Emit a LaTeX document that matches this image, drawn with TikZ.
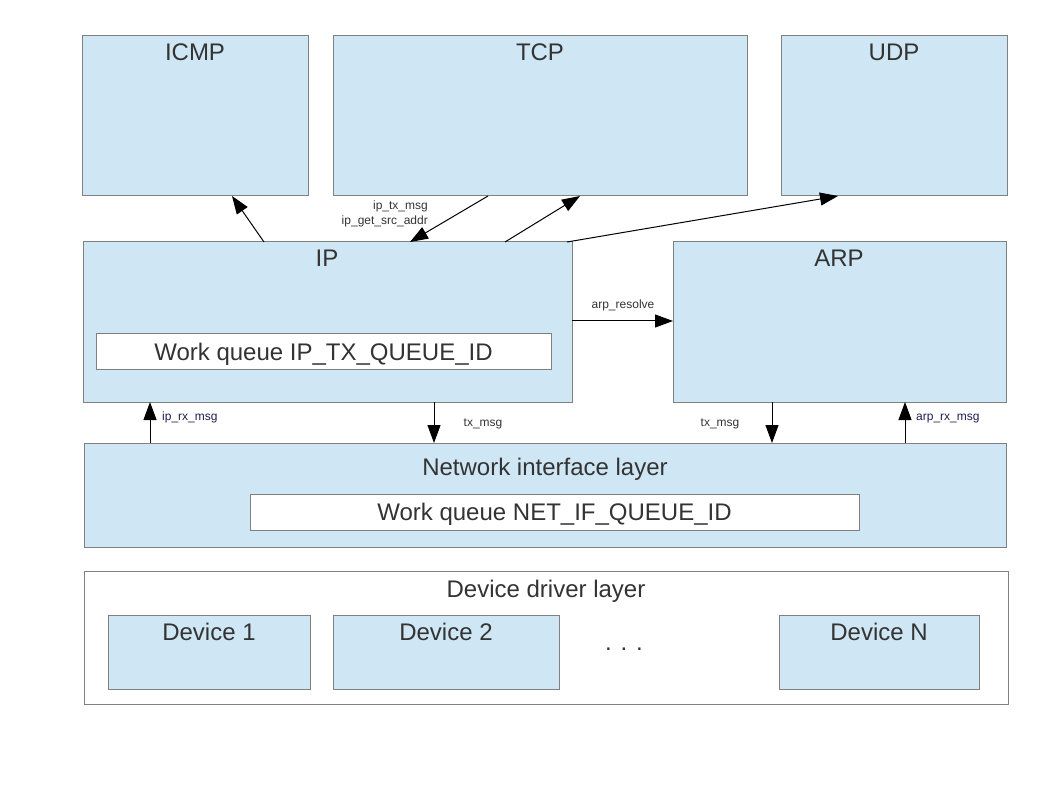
\documentclass[tikz,border=0pt]{standalone}
\usepackage{fontspec}
\setmainfont{Liberation Sans}
\usetikzlibrary{arrows.meta}
\definecolor{boxfill}{RGB}{207,231,245}
\definecolor{boxline}{RGB}{128,128,128}
\definecolor{txt}{RGB}{51,51,51}
\definecolor{navy}{RGB}{30,30,80}
\begin{document}
\begin{tikzpicture}[x=1pt,y=-1pt,
  box/.style={draw=boxline, fill=boxfill, line width=1pt, inner sep=0pt, outer sep=0pt},
  wbox/.style={draw=boxline, fill=white, line width=1pt, inner sep=0pt, outer sep=0pt},
  title/.style={text=txt, font=\fontsize{24}{28}\selectfont, anchor=base, inner sep=0pt},
  lab/.style={text=txt, font=\fontsize{12}{14}\selectfont, anchor=base, inner sep=0pt},
  arr/.style={-{Triangle[length=18pt,width=13pt]}, line width=1pt, black}]
\useasboundingbox (0,0) rectangle (1058,794);

% boxes
\node[box, minimum width=226pt, minimum height=160pt] (icmp) at (195,116) {};
\node[box, minimum width=414pt, minimum height=160pt] (tcp) at (540,116) {};
\node[box, minimum width=226pt, minimum height=160pt] (udp) at (894,116) {};
\node[box, minimum width=489pt, minimum height=160pt] (ip) at (327.5,322) {};
\node[wbox, minimum width=455pt, minimum height=36pt] (ipq) at (323.5,352) {};
\node[box, minimum width=333pt, minimum height=160pt] (arp) at (839.5,322) {};
\node[box, minimum width=922pt, minimum height=104pt] (net) at (545,495) {};
\node[wbox, minimum width=609pt, minimum height=36pt] (netq) at (554.5,512) {};
\node[wbox, minimum width=924pt, minimum height=133pt] (ddl) at (546,637.5) {};
\node[box, minimum width=202pt, minimum height=74pt] (dev1) at (209,652) {};
\node[box, minimum width=226pt, minimum height=74pt] (dev2) at (446,652) {};
\node[box, minimum width=200pt, minimum height=74pt] (devn) at (879,652) {};

% titles
\node[title] (ticmp) at (195,61) {ICMP};
\node[title] (ttcp) at (540,61) {TCP};
\node[title] (tudp) at (894,61) {UDP};
\node[title] (tip) at (327,267) {IP};
\node[title] (tarp) at (839,267) {ARP};
\node[title] (tipq) at (323.5,360) {Work queue IP\_TX\_QUEUE\_ID};
\node[title] (tnet) at (545,475) {Network interface layer};
\node[title] (tnetq) at (554.5,520) {Work queue NET\_IF\_QUEUE\_ID};
\node[title] (tddl) at (546,597) {Device driver layer};
\node[title] (tdev1) at (209,640) {Device 1};
\node[title] (tdev2) at (446,640) {Device 2};
\node[title] (tdevn) at (879,640) {Device N};
\node[title] (dots) at (624,650) {. . .};

% arrows
\draw[arr] (ip.north -| 264,0) -- (icmp.south -| 232,0);
\draw[arr] (tcp.south -| 488,0) -- (ip.north -| 410,0);
\draw[arr] (ip.north -| 505,0) -- (tcp.south -| 580,0);
\draw[arr] (ip.north -| 567,0) -- (udp.south -| 838,0);
\draw[arr] (ip.east |- 0,321) -- (arp.west |- 0,321);
\draw[arr] (net.north -| 150,0) -- (ip.south -| 150,0);
\draw[arr] (ip.south -| 434,0) -- (net.north -| 434,0);
\draw[arr] (arp.south -| 772,0) -- (net.north -| 772,0);
\draw[arr] (net.north -| 905,0) -- (arp.south -| 905,0);

% labels
\node[lab, anchor=base east] (l1) at (428,210) {ip\_tx\_msg};
\node[lab, anchor=base east] (l2) at (428,224.5) {ip\_get\_src\_addr};
\node[lab] (l3) at (623,309) {arp\_resolve};
\node[lab, text=navy, anchor=base west] (l4) at (162,420) {ip\_rx\_msg};
\node[lab] (l5) at (483,426) {tx\_msg};
\node[lab] (l6) at (720,426) {tx\_msg};
\node[lab, text=navy, anchor=base west] (l7) at (916,420) {arp\_rx\_msg};
\end{tikzpicture}
\end{document}
